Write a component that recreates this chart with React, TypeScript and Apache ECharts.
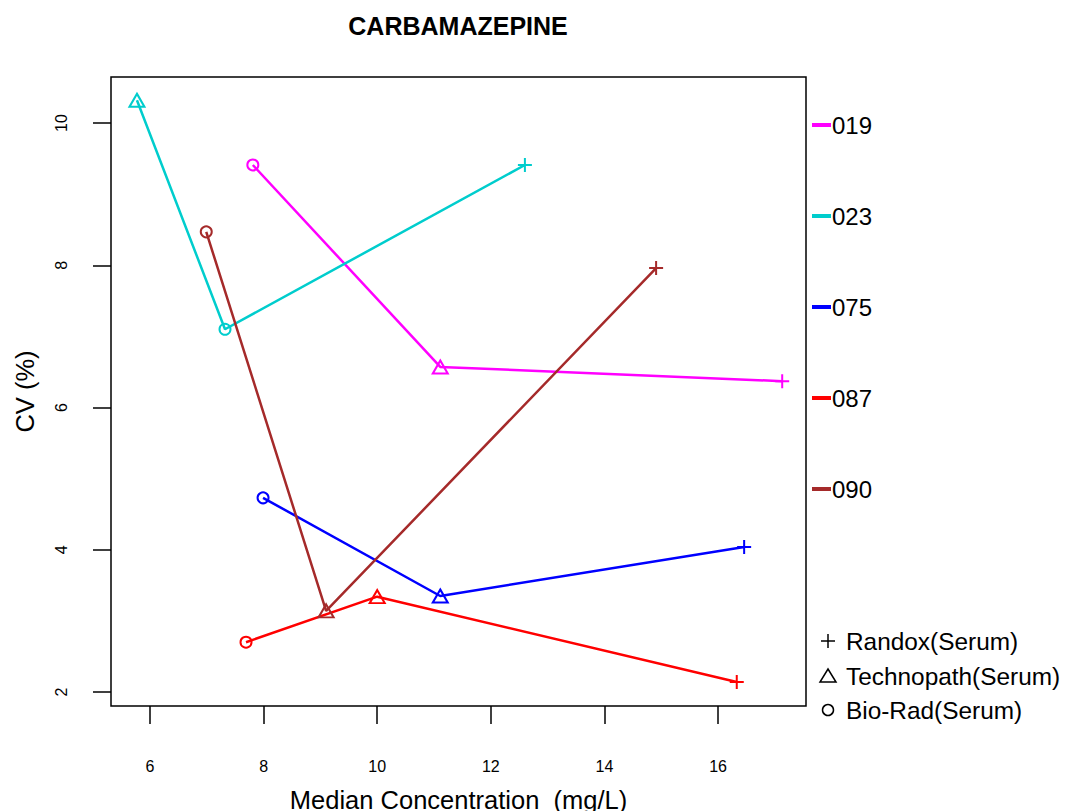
import React, { useEffect, useRef } from "react";
import * as echarts from "echarts";

const labs = ["019", "023", "075", "087", "090"];
const labColors = ["#FF00FF", "#00CDCD", "#0000FF", "#FF0000", "#A52A2A"];

const randoxX = [17.13, 12.6, 16.46, 16.33, 14.91];
const randoxCV = [6.37, 9.41, 4.04, 2.14, 7.96];
const technoX = [11.11, 5.77, 11.11, 10.0, 9.1];
const technoCV = [6.57, 10.32, 3.35, 3.34, 3.14];
const bioradX = [7.81, 7.32, 7.99, 7.69, 6.99];
const bioradCV = [9.41, 7.1, 4.73, 2.7, 8.47];

const methods = ["Randox(Serum)", "Technopath(Serum)", "Bio-Rad(Serum)"];
const xTicks = [6, 8, 10, 12, 14, 16];
const yTicks = [2, 4, 6, 8, 10];

const FONT = "'Liberation Sans', Arial, sans-serif";
const PLUS = "path://M5,0L5,10M0,5L10,5";

export default function App() {
  const ref = useRef<HTMLDivElement>(null);
  useEffect(() => {
    if (!ref.current) return;
    const chart = echarts.init(ref.current, null, { renderer: "svg" });

    const series = labs.map((lab, i) => {
      const c = labColors[i];
      const pts = [
        { value: [randoxX[i], randoxCV[i]], symbol: PLUS, symbolSize: 14 },
        { value: [technoX[i], technoCV[i]], symbol: "triangle", symbolSize: [15, 13] },
        { value: [bioradX[i], bioradCV[i]], symbol: "circle", symbolSize: 11 },
      ].sort((a, b) => a.value[0] - b.value[0]);
      return {
        name: lab,
        type: "line",
        data: pts.map((p) => ({
          ...p,
          itemStyle: { color: "rgba(0,0,0,0)", borderColor: c, borderWidth: 2 },
        })),
        showSymbol: true,
        lineStyle: { color: c, width: 2.5 },
        itemStyle: { color: "rgba(0,0,0,0)", borderColor: c, borderWidth: 2 },
        z: 2,
      };
    });

    const graphics: any[] = [];
    labs.forEach((lab, i) => {
      const y = 125 + i * 91;
      graphics.push({
        type: "line",
        shape: { x1: 812, y1: y, x2: 831, y2: y },
        style: { stroke: labColors[i], lineWidth: 4 },
      });
      graphics.push({
        type: "text",
        x: 832,
        y: y,
        style: { text: lab, font: `24px ${FONT}`, fill: "#000", verticalAlign: "middle", align: "left" },
      });
    });
    const my = [641, 676, 710];
    graphics.push({ type: "line", shape: { x1: 821, y1: my[0], x2: 835, y2: my[0] }, style: { stroke: "#000", lineWidth: 1.5 } });
    graphics.push({ type: "line", shape: { x1: 828, y1: my[0] - 7, x2: 828, y2: my[0] + 7 }, style: { stroke: "#000", lineWidth: 1.5 } });
    graphics.push({
      type: "polygon",
      shape: { points: [[828, my[1] - 7], [836, my[1] + 6], [820, my[1] + 6]] },
      style: { stroke: "#000", fill: "none", lineWidth: 1.5 },
    });
    graphics.push({ type: "circle", shape: { cx: 828, cy: my[2], r: 5.5 }, style: { stroke: "#000", fill: "none", lineWidth: 1.5 } });
    methods.forEach((m, i) => {
      graphics.push({
        type: "text",
        x: 846,
        y: my[i],
        style: { text: m, font: `24.4px ${FONT}`, fill: "#000", verticalAlign: "middle", align: "left" },
      });
    });

    chart.setOption({
      animation: false,
      backgroundColor: "#fff",
      textStyle: { fontFamily: FONT },
      title: {
        text: "CARBAMAZEPINE",
        left: 453,
        textAlign: "center",
        top: 8,
        textStyle: { fontSize: 25, fontWeight: "bold", color: "#000", fontFamily: FONT },
      },
      grid: {
        left: 111,
        top: 77,
        width: 695,
        height: 629,
        show: true,
        borderColor: "#000",
        borderWidth: 1.5,
        backgroundColor: "transparent",
        containLabel: false,
        outerBoundsMode: "none",
      },
      xAxis: {
        type: "value",
        min: 5.313,
        max: 17.549,
        axisLine: { show: false },
        splitLine: { show: false },
        axisTick: { show: true, inside: false, length: 18, customValues: xTicks, lineStyle: { color: "#000", width: 1.5 } },
        axisLabel: { customValues: xTicks, fontSize: 16, color: "#000", margin: 52, fontFamily: FONT },
        name: "Median Concentration  (mg/L)",
        nameLocation: "middle",
        nameGap: 81,
        nameTextStyle: { fontSize: 25.5, color: "#000", fontFamily: FONT },
      },
      yAxis: {
        type: "value",
        min: 1.803,
        max: 10.647,
        axisLine: { show: false },
        splitLine: { show: false },
        axisTick: { show: true, inside: false, length: 18, customValues: yTicks, lineStyle: { color: "#000", width: 1.5 } },
        axisLabel: { customValues: yTicks, fontSize: 16, color: "#000", margin: 42, rotate: 90, fontFamily: FONT },
        name: "CV (%)",
        nameLocation: "middle",
        nameGap: 73,
        nameTextStyle: { fontSize: 25.5, color: "#000", fontFamily: FONT },
      },
      series,
      graphic: graphics,
    });
    return () => chart.dispose();
  }, []);
  return <div ref={ref} style={{ width: 1069, height: 811, position: "absolute", left: 0, top: 0 }} />;
}
